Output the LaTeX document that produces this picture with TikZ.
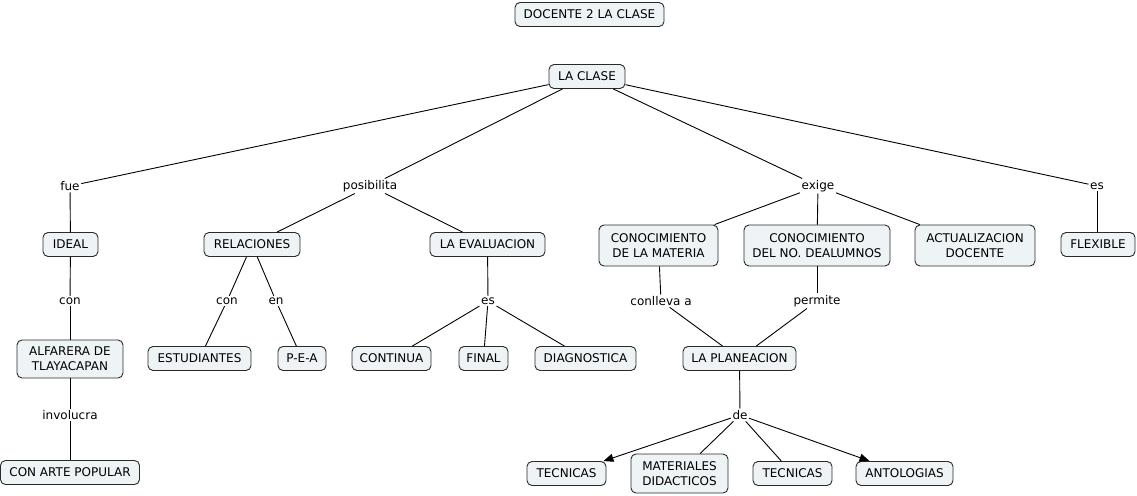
\documentclass[tikz,border=0pt]{standalone}
\usepackage{fontspec}
\setmainfont{DejaVu Sans}
\usetikzlibrary{arrows.meta}
\definecolor{boxfill}{HTML}{EEF3F5}
\definecolor{boxline}{HTML}{2A2A2A}
\tikzset{
  concept/.style={draw=boxline, fill=boxfill, rounded corners=5pt, line width=0.9pt,
    font=\fontsize{12}{15}\selectfont, align=center, inner xsep=3pt, inner ysep=2pt,
    minimum height=24pt},
  lbl/.style={fill=white, inner sep=1.5pt, font=\fontsize{12}{14}\selectfont},
  link/.style={draw=black, line width=0.9pt},
  arrowlink/.style={link, -{Triangle[length=10pt,width=8pt]}}
}
\begin{document}
\begin{tikzpicture}[x=1pt,y=-1pt]
\useasboundingbox (0,0) rectangle (1137,495);
% concepts
\node[concept, minimum width=149pt] (title) at (589.5,14.5) {DOCENTE 2 LA CLASE};
\node[concept, minimum width=76pt] (clase) at (587,76.5) {LA CLASE};
\node[concept, minimum width=55pt] (ideal) at (70.5,244.5) {IDEAL};
\node[concept, minimum width=96pt] (rel) at (252,244.5) {RELACIONES};
\node[concept, minimum width=115pt] (eval) at (487.5,244.5) {LA EVALUACION};
\node[concept, minimum width=119pt, minimum height=41pt] (mat) at (658.5,245.5) {CONOCIMIENTO\\DE LA MATERIA};
\node[concept, minimum width=146pt, minimum height=41pt] (alum) at (817,245.5) {CONOCIMIENTO\\DEL NO. DEALUMNOS};
\node[concept, minimum width=120pt, minimum height=41pt] (act) at (975,245.5) {ACTUALIZACION\\DOCENTE};
\node[concept, minimum width=74pt] (flex) at (1098,244.5) {FLEXIBLE};
\node[concept, minimum width=106pt, minimum height=38pt] (alf) at (70,359) {ALFARERA DE\\TLAYACAPAN};
\node[concept, minimum width=139pt] (arte) at (70,472.5) {CON ARTE POPULAR};
\node[concept, minimum width=103pt] (est) at (199.5,358.5) {ESTUDIANTES};
\node[concept, minimum width=48pt] (pea) at (302,358.5) {P-E-A};
\node[concept, minimum width=79pt] (cont) at (391.5,358.5) {CONTINUA};
\node[concept, minimum width=49pt] (final) at (483.5,358.5) {FINAL};
\node[concept, minimum width=101pt] (diag) at (585.5,358.5) {DIAGNOSTICA};
\node[concept, minimum width=113pt] (plan) at (739.5,358.5) {LA PLANEACION};
\node[concept, minimum width=79pt] (tec1) at (566.5,473.5) {TECNICAS};
\node[concept, minimum width=97pt, minimum height=39pt] (matdid) at (679.5,473.5) {MATERIALES\\DIDACTICOS};
\node[concept, minimum width=79pt] (tec2) at (792.5,473.5) {TECNICAS};
\node[concept, minimum width=97pt] (anto) at (904.5,473.5) {ANTOLOGIAS};
% linking phrases
\node[lbl] (fue) at (70,186) {fue};
\node[lbl] (pos) at (370,186) {posibilita};
\node[lbl] (exige) at (818,186) {exige};
\node[lbl] (es1) at (1097,186) {es};
\node[lbl] (con1) at (70,301) {con};
\node[lbl] (invol) at (70,415) {involucra};
\node[lbl] (con2) at (227,301) {con};
\node[lbl] (en) at (276,301) {en};
\node[lbl] (es2) at (488,301) {es};
\node[lbl] (conl) at (661,301) {conlleva a};
\node[lbl] (perm) at (817,301) {permite};
\node[lbl] (de) at (740,415) {de};
% connectors
\draw[link] (clase) -- (fue);
\draw[link] (clase) -- (pos);
\draw[link] (clase) -- (exige);
\draw[link] (clase) -- (es1);
\draw[link] (fue) -- (ideal);
\draw[link] (pos) -- (rel);
\draw[link] (pos) -- (eval);
\draw[link] (exige) -- (mat);
\draw[link] (exige) -- (alum);
\draw[link] (exige) -- (act);
\draw[link] (es1) -- (es1 |- flex.north);
\draw[link] (ideal) -- (con1);
\draw[link] (con1) -- (alf);
\draw[link] (alf) -- (invol);
\draw[link] (invol) -- (arte);
\draw[link] (rel) -- (con2);
\draw[link] (con2) -- (est);
\draw[link] (rel) -- (en);
\draw[link] (en) -- (pea);
\draw[link] (eval) -- (es2);
\draw[link] (es2) -- (cont);
\draw[link] (es2) -- (final);
\draw[link] (es2) -- (diag);
\draw[link] (mat) -- (conl);
\draw[link] (conl) -- (plan);
\draw[link] (alum) -- (perm);
\draw[link] (perm) -- (plan);
\draw[link] (plan) -- (de);
\draw[arrowlink] (de) -- (tec1);
\draw[link] (de) -- (matdid);
\draw[link] (de) -- (tec2);
\draw[arrowlink] (de) -- (anto);
\end{tikzpicture}
\end{document}
